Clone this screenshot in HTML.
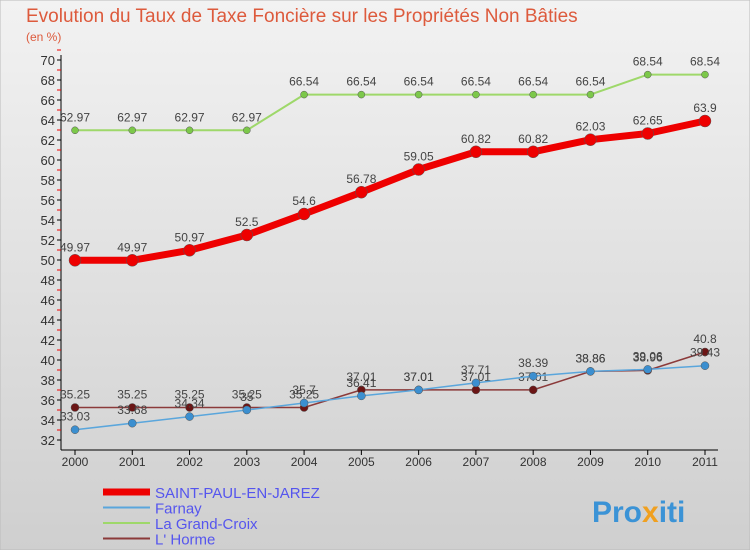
<!DOCTYPE html>
<html><head><meta charset="utf-8"><style>
body{margin:0;width:750px;height:550px;overflow:hidden;font-family:"Liberation Sans",sans-serif}
svg text{font-family:"Liberation Sans",sans-serif}
</style></head><body>
<svg id="c" width="750" height="550" xmlns="http://www.w3.org/2000/svg">
<defs><linearGradient id="bg" x1="0" y1="0" x2="0" y2="1"><stop offset="0" stop-color="#f2f2f2"/><stop offset="1" stop-color="#cfcfcf"/></linearGradient></defs>
<rect x="0" y="0" width="750" height="550" fill="url(#bg)" stroke="#bbb"/>
<text x="26" y="22" font-size="19" fill="#dd5a3c">Evolution du Taux de Taxe Foncière sur les Propriétés Non Bâties</text>
<text x="26" y="41" font-size="12" fill="#dd5a3c">(en %)</text>
<g id="axes"></g><g id="series"></g>
<text x="592" y="522" font-size="30" font-weight="bold" fill="#3b93d6">Pro<tspan fill="#f0a020">x</tspan>iti</text>
</svg>
<script>
const years=[2000,2001,2002,2003,2004,2005,2006,2007,2008,2009,2010,2011];
const yTicks=[32,34,36,38,40,42,44,46,48,50,52,54,56,58,60,62,64,66,68,70];
const saint=[49.97,49.97,50.97,52.5,54.6,56.78,59.05,60.82,60.82,62.03,62.65,63.9];
const farnay=[33.03,33.68,34.34,35,35.7,36.41,37.01,37.71,38.39,38.86,39.06,39.43];
const grand=[62.97,62.97,62.97,62.97,66.54,66.54,66.54,66.54,66.54,66.54,68.54,68.54];
const horme=[35.25,35.25,35.25,35.25,35.25,37.01,37.01,37.01,37.01,38.86,38.96,40.8];
const NS="http://www.w3.org/2000/svg";
const X=i=>75+i*(630/11), Y=v=>60+(70-v)*10;
function mk(t,a,p){const e=document.createElementNS(NS,t);for(const k in a)e.setAttribute(k,a[k]);p.appendChild(e);return e;}
const ax=document.getElementById('axes'), sg=document.getElementById('series');
const yl=mk('line',{x1:61,y1:55,x2:61,y2:450,stroke:'#000'},ax);


const xl=mk('line',{x1:61,y1:450,x2:718,y2:450,stroke:'#000'},ax);


yTicks.forEach(v=>{
 mk('line',{x1:57,y1:Y(v),x2:61,y2:Y(v),stroke:'#000'},ax);
 mk('line',{x1:57,y1:Y(v+1),x2:61,y2:Y(v+1),stroke:'#e00'},ax);
 const t=mk('text',{x:55,y:Y(v)+5,'font-size':13,'text-anchor':'end',fill:'#333'},ax);t.textContent=v;
 
 
});
years.forEach((y,i)=>{
 mk('line',{x1:X(i),y1:450,x2:X(i),y2:455,stroke:'#000'},ax);
 const t=mk('text',{x:X(i),y:466,'font-size':12,'text-anchor':'middle',fill:'#333'},ax);t.textContent=y;
 
 
});
function fmt(v){return String(v).replace(/^(\d+)\.(\d)0$/,'$1.$2');}
function series(d,col,w,r,name,dark){
 const g=mk('g',{},sg);
 
 
 mk('polyline',{points:d.map((v,i)=>X(i)+','+Y(v)).join(' '),fill:'none',stroke:col,'stroke-width':w,'stroke-linejoin':'round'},g);
 d.forEach((v,i)=>{
  const c=mk('circle',{cx:X(i),cy:Y(v),r:r,fill:dark||col,stroke:'#555','stroke-width':0.5},g);
  
  
  const t=mk('text',{x:X(i),y:Y(v)-9,'font-size':12,'text-anchor':'middle',fill:'#444'},g);t.textContent=fmt(v);
  
  
 });
}
series(grand,'#9ed86a',2,3.5,'series-la-grand-croix','#7cc84a');
series(saint,'#ee0000',7,6,'series-saint-paul-en-jarez');
series(horme,'#8b3a3a',1.5,4,'series-l-horme','#6b1515');
series(farnay,'#5aa6dc',1.5,4,'series-farnay','#3b8fd0');
const leg=[['SAINT-PAUL-EN-JAREZ','#ee0000',7],['Farnay','#5aa6dc',2],['La Grand-Croix','#9ed86a',2],['L\' Horme','#8b3a3a',2]];
leg.forEach((l,i)=>{
 const g=mk('g',{},sg);
 
 
 const y=492+i*15.5;
 mk('line',{x1:103,y1:y,x2:150,y2:y,stroke:l[1],'stroke-width':l[2]},g);
 const t=mk('text',{x:155,y:y+6,'font-size':15,fill:'#5555ee'},g);t.textContent=l[0];
});
</script>
</body></html>
